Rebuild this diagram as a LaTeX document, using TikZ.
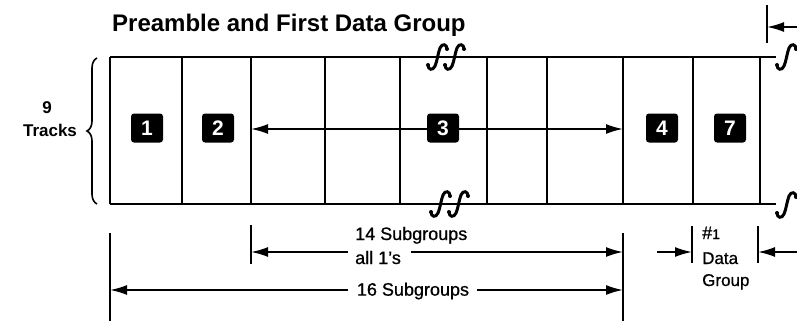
\documentclass[tikz,border=0pt]{standalone}
\usepackage{fontspec}
\setmainfont{Liberation Sans}
\newfontfamily\medfont[FakeBold=0.8]{Liberation Sans}
\usetikzlibrary{arrows.meta,decorations.pathreplacing}
\begin{document}
\begin{tikzpicture}[x=1pt,y=-1pt,
  frame/.style={line width=1.8pt},
  arr/.style={line width=1.8pt,-{Latex[length=17pt,width=10pt]}},
  tick/.style={line width=1.8pt},
  numbox/.style={fill=black,rounded corners=3pt,minimum width=32pt,minimum height=29pt,inner sep=0pt,text=white,font=\fontsize{21}{21}\selectfont\bfseries},
  lbl/.style={font=\fontsize{18}{22}\selectfont\medfont,inner sep=0pt},
  side/.style={font=\fontsize{17}{20}\selectfont\bfseries,inner sep=0pt},
  integ/.pic={\draw[line width=3pt,line cap=round] (9,-8) .. controls (9,-13) and (4,-14) .. (2,-9) .. controls (0,-4) and (-1,5) .. (-3,9) .. controls (-5,14) and (-10,13) .. (-10,8);
    \fill (9,-8) circle (2pt); \fill (-10,8) circle (2pt);}]
\useasboundingbox (0,0) rectangle (797,321);

% title
\node[anchor=base west,inner sep=0pt,font=\fontsize{24}{28}\selectfont\bfseries] (title) at (112,32) {Preamble and First Data Group};

% frame
\coordinate (tl) at (110,57);
\coordinate (tr) at (776,57);
\coordinate (bl) at (110,204);
\coordinate (br) at (776,204);
\draw[frame] (tl) -- (tr);
\draw[frame] (bl) -- (br);
\foreach \x in {110,182,251,325,400,487,547,623,693,760}
  \draw[frame] (\x,57) -- (\x,204);

% break marks
\pic at (438,57) {integ};
\pic at (455,57) {integ};
\pic at (441,204) {integ};
\pic at (459,204) {integ};
\pic at (787,57) {integ};
\pic at (787,205) {integ};

% brace and label
\coordinate (brb) at (97,204);
\coordinate (brt) at (97,58);
\draw[line width=1.6pt,decorate,decoration={brace,amplitude=10pt}] (brb) -- (brt);
\node[side] (nine) at (47,108) {9};
\node[side] (tracks) at (50,130) {Tracks};

% numbered boxes
\node[numbox] (n1) at (147,128) {1};
\node[numbox] (n2) at (218,128) {2};
\node[numbox] (n3) at (443,128) {3};
\node[numbox] (n4) at (662,128) {4};
\node[numbox] (n7) at (730,128) {7};
\coordinate (m251) at (251,129);
\coordinate (m623) at (623,129);
\draw[arr] (n3.west |- m251) -- (m251);
\draw[arr] (n3.east |- m623) -- (m623);

% top right arrow
\coordinate (trt) at (767,5);
\coordinate (trb) at (767,43);
\coordinate (tra) at (767,27);
\coordinate (tre) at (797,27);
\draw[tick] (trt) -- (trb);
\draw[arr] (tre) -- (tra);

% bottom dimension ticks
\coordinate (k110t) at (110,233); \coordinate (k110b) at (110,321);
\coordinate (k251t) at (251,225); \coordinate (k251b) at (251,264);
\coordinate (k623t) at (623,233); \coordinate (k623b) at (623,321);
\draw[tick] (k110t) -- (k110b);
\draw[tick] (k251t) -- (k251b);
\draw[tick] (k623t) -- (k623b);

% 14 subgroups
\node[lbl,anchor=base west] (s14) at (355,240) {14 Subgroups};
\node[lbl,anchor=base west] (all1) at (355,264) {all 1’s};
\coordinate (s14l) at (348,252);
\coordinate (s14r) at (411,252);
\draw[arr] (s14l) -- (k251t |- s14l);
\draw[arr] (s14r) -- (k623t |- s14r);

% 16 subgroups
\node[lbl] (s16) at (413,291) {16 Subgroups};
\coordinate (s16l) at (348,290);
\coordinate (s16r) at (477,290);
\draw[arr] (s16l) -- (k110t |- s16l);
\draw[arr] (s16r) -- (k623t |- s16r);

% data group
\node[lbl,anchor=base west,font=\fontsize{18}{20}\selectfont\medfont] (h1) at (702,239) {\#{\fontsize{14}{14}\selectfont 1}};
\node[lbl,anchor=base west,font=\fontsize{17}{20}\selectfont\medfont] (data) at (702,264) {Data};
\node[lbl,anchor=base west,font=\fontsize{17}{20}\selectfont\medfont] (group) at (702,286) {Group};
\coordinate (d1t) at (692,226); \coordinate (d1b) at (692,263);
\coordinate (d2t) at (758,226); \coordinate (d2b) at (758,263);
\draw[tick] (d1t) -- (d1b);
\draw[tick] (d2t) -- (d2b);
\coordinate (dl) at (657,252);
\coordinate (dr) at (797,252);
\draw[arr] (dl) -- (d1t |- dl);
\draw[arr] (dr) -- (d2t |- dr);
\end{tikzpicture}
\end{document}
